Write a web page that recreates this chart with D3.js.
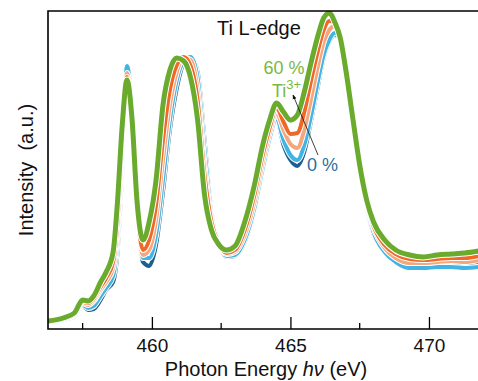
<!DOCTYPE html>
<html>
<head>
<meta charset="utf-8">
<script src="https://cdn.jsdelivr.net/npm/d3@7"></script>
<style>
  body { margin: 0; background: #fff; }
  text { font-family: "Liberation Sans", Arial, sans-serif; }
</style>
</head>
<body>
<div id="chart"></div>
<script>
// photon energy (eV), shared by every spectrum
var energy = [456.25, 456.8, 457.2, 457.5, 457.7, 457.9, 458.15, 458.35, 458.6, 458.75,
  458.93, 459.1, 459.28, 459.46, 459.68, 459.9, 460.15, 460.4, 460.65, 460.9,
  461.15, 461.4, 461.65, 461.9, 462.15, 462.4, 462.7, 463.0, 463.35, 463.7,
  464.0, 464.25, 464.5, 464.75, 465.0, 465.25, 465.5, 465.75, 466.0, 466.2,
  466.4, 466.6, 466.8, 467.0, 467.25, 467.5, 467.75, 468.0, 468.4, 468.8,
  469.3, 469.8, 470.3, 470.8, 471.3, 471.8];

// intensity (a.u.) for each Ti3+ fraction
var ti0 = [7, 9, 12, 23, 19, 20, 29, 39, 47, 74,
  159, 261, 221, 124, 67, 63, 84, 137, 199, 241,
  266, 272, 257, 189, 117, 86, 72, 73, 87, 119,
  159, 189, 209, 184, 169, 163, 177, 209, 244, 271,
  287, 294, 291, 261, 211, 161, 121, 95, 79, 71,
  68, 67, 68, 67, 66, 67];
var ti15 = [7, 9, 13, 24, 21, 23, 33, 41, 53, 84,
  169, 263, 221, 124, 71, 71, 94, 149, 209, 249,
  268, 272, 251, 179, 114, 86, 73, 74, 89, 121,
  161, 191, 211, 189, 174, 169, 184, 214, 249, 274,
  289, 296, 291, 259, 209, 161, 123, 97, 77, 67,
  61, 61, 62, 62, 61, 62];
var ti30 = [7, 10, 14, 26, 24, 28, 39, 47, 61, 94,
  179, 256, 217, 124, 74, 79, 109, 169, 224, 257,
  271, 269, 239, 164, 109, 85, 75, 77, 94, 127,
  167, 196, 216, 199, 185, 181, 199, 231, 264, 287,
  299, 303, 291, 257, 207, 161, 124, 101, 81, 71,
  66, 66, 67, 68, 67, 69];
var ti45 = [8, 10, 15, 27, 26, 30, 42, 51, 67, 104,
  189, 252, 214, 124, 79, 89, 124, 189, 239, 264,
  272, 263, 229, 154, 107, 86, 76, 79, 99, 134,
  174, 201, 221, 207, 195, 196, 217, 249, 279, 299,
  308, 307, 291, 257, 209, 162, 126, 103, 84, 75,
  70, 69, 70, 71, 71, 73];
var ti60 = [8, 11, 16, 29, 28, 33, 47, 57, 77, 124,
  204, 249, 211, 129, 89, 107, 149, 224, 259, 271,
  268, 251, 209, 134, 99, 85, 79, 83, 107, 144,
  184, 209, 226, 217, 209, 214, 237, 267, 294, 311,
  316, 307, 291, 259, 211, 164, 129, 107, 89, 79,
  74, 72, 74, 75, 76, 78];

var majorTicks = [460, 465, 470];
var minorTicks = [457.5, 462.5, 467.5];

var series = [
  {values: ti0, color: "#1d5f8e", width: 4},
  {values: ti15, color: "#41b4e4", width: 4},
  {values: ti30, color: "#f5a67c", width: 4},
  {values: ti45, color: "#f06828", width: 4},
  {values: ti60, color: "#6aab2e", width: 5}
];

var W = 478, H = 381;
var margin = {top: 11, left: 48, bottom: 52};

var svg = d3.select("#chart").append("svg")
  .attr("width", W)
  .attr("height", H);

var x = d3.scaleLinear()
  .domain([456.25, 471.77])
  .range([margin.left, W]);
var y = d3.scaleLinear()
  .domain([0, 318])
  .range([H - margin.bottom, margin.top]);

svg.append("clipPath").attr("id", "clip")
  .append("rect")
  .attr("x", margin.left).attr("y", margin.top)
  .attr("width", W - margin.left).attr("height", H - margin.bottom - margin.top);

var line = d3.line()
  .x(function(d, i) { return x(energy[i]); })
  .y(function(d) { return y(d); })
  .curve(d3.curveMonotoneX);

var plot = svg.append("g").attr("clip-path", "url(#clip)");

// each spectrum gets a thin white halo, then its colour on top
series.forEach(function(s) {
  plot.append("path")
    .datum(s.values)
    .attr("d", line)
    .attr("fill", "none")
    .attr("stroke", "#fff")
    .attr("stroke-width", s.width + 2)
    .attr("stroke-linejoin", "round");
  plot.append("path")
    .datum(s.values)
    .attr("d", line)
    .attr("fill", "none")
    .attr("stroke", s.color)
    .attr("stroke-width", s.width)
    .attr("stroke-linejoin", "round");
});

// frame: left, top and bottom only
var y0 = y(0), y1 = y(318);
svg.append("path")
  .attr("d", "M" + W + "," + y1 + "H" + margin.left + "V" + y0 + "H" + W)
  .attr("fill", "none")
  .attr("stroke", "#000")
  .attr("stroke-width", 1.6);

// x axis, ticks point inward
var xAxis = svg.append("g")
  .attr("transform", "translate(0," + y0 + ")")
  .call(d3.axisBottom(x).tickValues(majorTicks).tickSize(-12).tickPadding(10).tickFormat(d3.format("d")));
xAxis.select(".domain").remove();
xAxis.selectAll(".tick line").attr("stroke-width", 1.3);
xAxis.selectAll(".tick text")
  .style("font-size", "19px")
  .attr("fill", "#111")
  .attr("font-family", "Liberation Sans, Arial, sans-serif");

svg.append("g").selectAll("line")
  .data(minorTicks)
  .enter().append("line")
  .attr("x1", function(d) { return x(d); })
  .attr("x2", function(d) { return x(d); })
  .attr("y1", y0)
  .attr("y2", y0 - 6)
  .attr("stroke", "#000")
  .attr("stroke-width", 1.3);

// axis titles
var xt = svg.append("text")
  .attr("x", 266)
  .attr("y", 376)
  .attr("text-anchor", "middle")
  .style("font-size", "20px")
  .attr("fill", "#111");
xt.append("tspan").text("Photon Energy ");
xt.append("tspan").attr("font-style", "italic").text("h\u03bd");
xt.append("tspan").text(" (eV)");

svg.append("text")
  .attr("transform", "translate(33,170) rotate(-90)")
  .attr("text-anchor", "middle")
  .style("font-size", "20px")
  .style("white-space", "pre")
  .attr("fill", "#111")
  .text("Intensity  (a.u.)");

// annotations
svg.append("text")
  .attr("x", 217).attr("y", 35)
  .style("font-size", "20px")
  .attr("fill", "#111")
  .text("Ti L-edge");

svg.append("text")
  .attr("x", 284).attr("y", 74)
  .attr("text-anchor", "middle")
  .style("font-size", "18px")
  .attr("fill", "#7ab83e")
  .text("60 %");

var ti = svg.append("text")
  .attr("x", 272).attr("y", 97)
  .style("font-size", "18px")
  .attr("fill", "#7ab83e");
ti.append("tspan").text("Ti");
ti.append("tspan").attr("dy", -8).style("font-size", "13px").text("3+");

svg.append("text")
  .attr("x", 307).attr("y", 171)
  .style("font-size", "18px")
  .attr("fill", "#2e6f9e")
  .text("0 %");

svg.append("defs").append("marker")
  .attr("id", "arrow")
  .attr("viewBox", "0 0 10 10")
  .attr("refX", 9).attr("refY", 5)
  .attr("markerWidth", 6).attr("markerHeight", 6)
  .attr("orient", "auto")
  .append("path")
  .attr("d", "M0,1L10,5L0,9Z")
  .attr("fill", "#111");

svg.append("line")
  .attr("x1", 318).attr("y1", 155)
  .attr("x2", 293).attr("y2", 95)
  .attr("stroke", "#111")
  .attr("stroke-width", 0.8)
  .attr("marker-end", "url(#arrow)");
</script>
</body>
</html>
